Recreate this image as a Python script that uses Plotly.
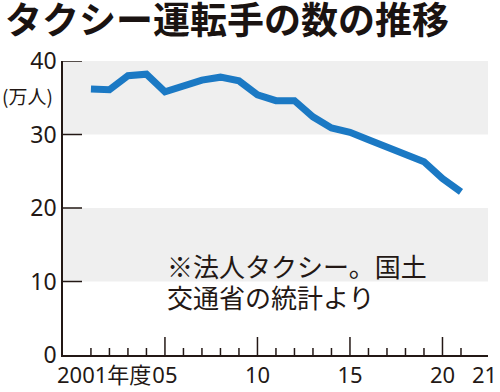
import plotly.graph_objects as go

years = list(range(2001, 2022))
drivers = [36.2, 36.1, 38.0, 38.2, 35.8, 36.6, 37.4, 37.8, 37.3, 35.4, 34.6, 34.6,
           32.4, 30.9, 30.3, 29.3, 28.3, 27.5, 26.3, 24.0, 22.2]
major_ticks = [2005, 2010, 2015, 2020]
major_text = ["05", "10", "15", "20"]
y_ticks = [0, 10, 20, 30, 40]

title = "タクシー運転手の数の推移"
note1 = "※法人タクシー。国土"
note2 = "交通省の統計より"
unit = "(万人)"

ink = "#231815"
blue = "#1b79c4"
band = "#efefef"
num_font = "Noto Sans, Noto Sans CJK JP"
cjk_font = "Noto Sans CJK JP"

xr = [1999.49, 2022.46]
yr = [0, 40]
px_per_x = (500 - 63 - 12) / (xr[1] - xr[0])
px_per_y = (392 - 61 - 37) / (yr[1] - yr[0])

def seg_trace(xs, ys):
    return go.Scatter(x=xs, y=ys, mode="lines", line=dict(color=ink, width=1.5),
                      hoverinfo="skip", cliponaxis=False)

fig = go.Figure()
for y0, y1 in [(30, 40), (10, 20)]:
    fig.add_shape(type="rect", xref="paper", yref="y", x0=0, x1=1, y0=y0, y1=y1,
                  fillcolor=band, line_width=0, layer="below")

fig.add_trace(go.Scatter(x=years, y=drivers, mode="lines",
                         line=dict(color=blue, width=7), hoverinfo="skip",
                         cliponaxis=False))

# tick marks: short yearly, long at labelled years, inside on the y axis
tx, ty = [], []
for yv in years:
    h = (18 if yv in major_ticks else 7) / px_per_y
    tx += [yv, yv, None]
    ty += [0, h, None]
for v in y_ticks[1:]:
    tx += [xr[0], xr[0] + 19 / px_per_x, None]
    ty += [v, v, None]
fig.add_trace(seg_trace(tx, ty))
# leader from the 2021 tick down to its label
drop = 12 / px_per_y
fig.add_trace(seg_trace([years[-1], years[-1], years[-1] + 0.5],
                        [0, -drop, -drop]))

fig.update_layout(
    width=500, height=392,
    margin=dict(l=63, r=12, t=61, b=37),
    paper_bgcolor="white", plot_bgcolor="white",
    showlegend=False,
    title=dict(text=title, x=5/500, xanchor="left", y=1-21/392, yanchor="middle",
               xref="container", yref="container",
               font=dict(family=cjk_font, size=37, color="#1a1311", weight="bold")),
    xaxis=dict(range=xr, showgrid=False, zeroline=False, automargin=False,
               showline=True, linecolor=ink, linewidth=1.5,
               tickvals=major_ticks, ticktext=major_text, ticks="",
               tickfont=dict(family=num_font, size=22, color=ink)),
    yaxis=dict(range=yr, showgrid=False, zeroline=False, automargin=False,
               showline=True, linecolor=ink, linewidth=1.5,
               tickvals=y_ticks, ticks="",
               tickfont=dict(family=num_font, size=23, color=ink)),
)

fig.add_annotation(text="2001年度", xref="x", yref="paper", x=2001, y=0,
                   xanchor="center", yanchor="top", yshift=-2, xshift=13, showarrow=False,
                   font=dict(family=num_font, size=22, color=ink))
fig.add_annotation(text="21", xref="x", yref="paper", x=2021.5, y=0,
                   xanchor="left", yanchor="top", yshift=-2, xshift=0, showarrow=False,
                   font=dict(family=num_font, size=22, color=ink))
fig.add_annotation(text=unit, xref="paper", yref="y", x=0, y=35.3,
                   xanchor="right", yanchor="middle", xshift=-8, showarrow=False,
                   font=dict(family=cjk_font, size=19, color=ink))
fig.add_annotation(text=note1, xref="x", yref="y", x=2005.0, y=12.2,
                   xanchor="left", yanchor="middle", showarrow=False,
                   font=dict(family=cjk_font, size=26, color=ink))
fig.add_annotation(text=note2, xref="x", yref="y", x=2005.0, y=8.0,
                   xanchor="left", yanchor="middle", showarrow=False,
                   font=dict(family=cjk_font, size=26, color=ink))

fig.write_html("out.html", config={"displayModeBar": False},
               post_script="document.body.style.margin='0';")
